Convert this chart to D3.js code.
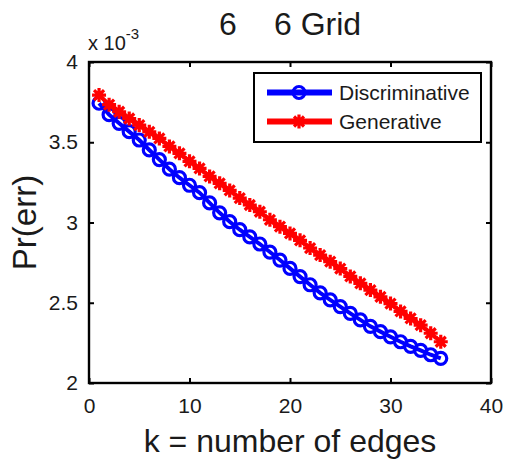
<!DOCTYPE html>
<html>
<head>
<meta charset="utf-8">
<script src="https://cdn.jsdelivr.net/npm/d3@7"></script>
<style>
  body { margin: 0; background: #fff; }
  text { font-family: "Liberation Sans", Arial, sans-serif; fill: #1a1a1a; }
</style>
</head>
<body>
<svg id="viz"></svg>
<script>
// Window size, the chart fills it.
let width = 506, height = 462;

// Data (values are in units of 10^-3)
const edges = d3.range(1, 36);
const discriminative = [3.743, 3.672, 3.618, 3.566, 3.514, 3.452, 3.392, 3.332, 3.279, 3.232,
                        3.186, 3.122, 3.060, 3.005, 2.955, 2.910, 2.866, 2.816, 2.766, 2.714,
                        2.663, 2.612, 2.562, 2.518, 2.476, 2.434, 2.393, 2.353, 2.320, 2.288,
                        2.257, 2.228, 2.203, 2.176, 2.154];
const generative = [3.794, 3.734, 3.690, 3.648, 3.607, 3.565, 3.524, 3.474, 3.431, 3.381,
                    3.337, 3.287, 3.244, 3.200, 3.152, 3.109, 3.067, 3.017, 2.974, 2.932,
                    2.889, 2.841, 2.797, 2.756, 2.713, 2.664, 2.621, 2.579, 2.537, 2.495,
                    2.446, 2.402, 2.360, 2.310, 2.257];
const xTicks = [0, 10, 20, 30, 40];
const yTicks = [2, 2.5, 3, 3.5, 4];
const seriesNames = ["Discriminative", "Generative"];

const svg = d3.select("#viz")
    .attr("width", width)
    .attr("height", height);

// plot box (window.top is reserved, so keep these in an object)
const box = {left: 89, right: 491, top: 62, bottom: 383};

const x = d3.scaleLinear().domain([0, 40]).range([box.left, box.right]);
const y = d3.scaleLinear().domain([2, 4]).range([box.bottom, box.top]);

// Axes with inward ticks on all four sides (matlab style box)
const tickLen = 5;
svg.append("g")
    .attr("transform", "translate(0," + box.bottom + ")")
    .call(d3.axisBottom(x).tickValues(xTicks).tickSizeInner(-tickLen).tickSizeOuter(0).tickPadding(15))
    .call(g => g.select(".domain").remove())
    .call(g => g.selectAll("text").attr("font-size", 21).attr("fill", "#222"));

svg.append("g")
    .attr("transform", "translate(0," + box.top + ")")
    .call(d3.axisTop(x).tickValues(xTicks).tickSizeInner(-tickLen).tickSizeOuter(0).tickFormat(""))
    .call(g => g.select(".domain").remove());

svg.append("g")
    .attr("transform", "translate(" + box.left + ",0)")
    .call(d3.axisLeft(y).tickValues(yTicks).tickSizeInner(-tickLen).tickSizeOuter(0).tickPadding(11).tickFormat(d3.format("")))
    .call(g => g.select(".domain").remove())
    .call(g => g.selectAll("text").attr("font-size", 21).attr("fill", "#222"));

svg.append("g")
    .attr("transform", "translate(" + box.right + ",0)")
    .call(d3.axisRight(y).tickValues(yTicks).tickSizeInner(-tickLen).tickSizeOuter(0).tickFormat(""))
    .call(g => g.select(".domain").remove());

svg.selectAll(".tick line").attr("stroke", "#000").attr("stroke-width", 2);

// The frame
svg.append("rect")
    .attr("x", box.left).attr("y", box.top)
    .attr("width", box.right - box.left).attr("height", box.bottom - box.top)
    .attr("fill", "none")
    .attr("stroke", "#000")
    .attr("stroke-width", 2.4);

// Lines and markers
const line = d3.line()
    .x((d, i) => x(edges[i]))
    .y(d => y(d));

const starPath = "M-7,0H7M0,-7V7M-5,-5L5,5M-5,5L5,-5";

svg.append("path")
    .datum(discriminative)
    .attr("d", line)
    .attr("fill", "none")
    .attr("stroke", "#0000ff")
    .attr("stroke-width", 4);

svg.append("g").selectAll("circle")
    .data(discriminative)
    .enter().append("circle")
    .attr("cx", (d, i) => x(edges[i]))
    .attr("cy", d => y(d))
    .attr("r", 6)
    .attr("fill", "none")
    .attr("stroke", "#0000ff")
    .attr("stroke-width", 3.2);

svg.append("path")
    .datum(generative)
    .attr("d", line)
    .attr("fill", "none")
    .attr("stroke", "#ff0000")
    .attr("stroke-width", 4);

svg.append("g").selectAll("path")
    .data(generative)
    .enter().append("path")
    .attr("d", starPath)
    .attr("transform", (d, i) => "translate(" + x(edges[i]) + "," + y(d) + ")")
    .attr("fill", "none")
    .attr("stroke", "#ff0000")
    .attr("stroke-width", 3.2);

// Legend
const legend = svg.append("g");
legend.append("rect")
    .attr("x", 254).attr("y", 73)
    .attr("width", 227).attr("height", 69)
    .attr("fill", "#fff")
    .attr("stroke", "#000")
    .attr("stroke-width", 2);

const rows = [
    {name: seriesNames[0], color: "#0000ff", y: 92.5},
    {name: seriesNames[1], color: "#ff0000", y: 121.5}
];
rows.forEach(function(r, i) {
    legend.append("line")
        .attr("x1", 267).attr("x2", 332)
        .attr("y1", r.y).attr("y2", r.y)
        .attr("stroke", r.color)
        .attr("stroke-width", 6);
    if (i === 0) {
        legend.append("circle")
            .attr("cx", 299).attr("cy", r.y).attr("r", 6)
            .attr("fill", "none").attr("stroke", r.color).attr("stroke-width", 3.2);
    } else {
        legend.append("path")
            .attr("d", starPath)
            .attr("transform", "translate(299," + r.y + ")")
            .attr("fill", "none").attr("stroke", r.color).attr("stroke-width", 3.2);
    }
    legend.append("text")
        .attr("x", 339).attr("y", r.y + 7.5)
        .attr("font-size", 21)
        .text(r.name);
});

// Exponent label
const expo = svg.append("text").attr("x", 88).attr("y", 50).attr("font-size", 20);
expo.append("tspan").text("x 10");
expo.append("tspan").attr("font-size", 15).attr("dy", -11).text("-3");

// Title (the multiplication sign is missing in the original)
svg.append("text").attr("x", 219).attr("y", 35).attr("font-size", 32).text("6");
svg.append("text").attr("x", 274).attr("y", 35).attr("font-size", 32).text("6 Grid");

// Axis titles
svg.append("text")
    .attr("x", (box.left + box.right) / 2).attr("y", 452)
    .attr("text-anchor", "middle")
    .attr("font-size", 32)
    .text("k = number of edges");

svg.append("text")
    .attr("transform", "translate(36," + ((box.top + box.bottom) / 2) + ") rotate(-90)")
    .attr("text-anchor", "middle")
    .attr("font-size", 33)
    .text("Pr(err)");
</script>
</body>
</html>
